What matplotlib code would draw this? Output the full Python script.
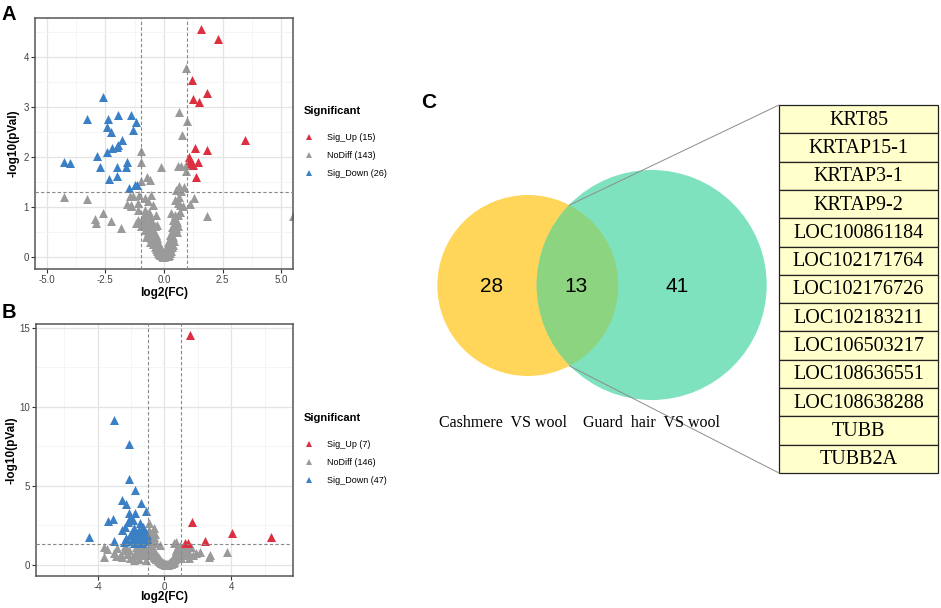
import matplotlib
matplotlib.use("Agg")
import matplotlib.pyplot as plt
from matplotlib.patches import Circle, Rectangle
from matplotlib.lines import Line2D

plt.rcParams['font.family'] = ['Liberation Sans', 'DejaVu Sans']
plt.rcParams['axes.unicode_minus'] = False

# ---------------- Panel A data ----------------
a_up_x = [1.56, 2.31, 1.19, 1.84, 1.23, 1.51, 3.44, 1.34, 1.84, 1.06, 1.12, 1.44, 1.23, 1.37, 1.17]
a_up_y = [4.56, 4.36, 3.55, 3.28, 3.16, 3.11, 2.34, 2.18, 2.14, 2.00, 1.94, 1.90, 1.84, 1.60, 1.88]

a_down_x = [-2.61, -3.29, -2.37, -1.94, -1.39, -1.19, -2.43, -2.28, -1.33, -1.80, -1.94, -2.00, -2.21,
            -2.44, -2.85, -4.25, -3.99, -2.75, -2.00, -1.59, -1.61, -2.01, -2.33, -1.50, -1.23, -1.17]
a_down_y = [3.21, 2.76, 2.76, 2.84, 2.85, 2.70, 2.60, 2.50, 2.55, 2.35, 2.25, 2.20, 2.18,
            2.10, 2.02, 1.90, 1.88, 1.80, 1.80, 1.90, 1.80, 1.63, 1.56, 1.38, 1.44, 1.45]

a_nd_x = [-4.25, -3.29, -2.95, -2.92, -2.60, -2.25, -1.83, -1.58, -1.42, -1.47, -1.40, -1.12, -1.05, -1.00,
          -1.00, -0.97, -0.73, -0.12, -0.55, -0.83, -0.69, -0.48, -1.12, -0.90, -0.55, -1.19, -0.97, 0.95,
          0.65, 1.00, 0.78, 0.72, 0.58, 0.95, 0.66, 0.52, 0.73, 0.45, 0.59, 0.80, 1.26, 1.83, 5.48, 0.31,
          0.59, 0.38, 0.85, 0.95, -1.32, -0.60, 1.10, -1.10, -0.80,
          -0.85, -0.80, -0.75, -0.70, -0.65, -0.60, -0.60, -0.55, -0.50, -0.50, -0.45, -0.45, -0.40, -0.40,
          -0.35, -0.35, -0.30, -0.30, -0.25, -0.25, -0.20, -0.20, -0.15, -0.15, -0.10, -0.10, -0.05, -0.05,
          0.00, 0.00, -0.55, -0.65, -0.70, -0.40, -0.50, -0.35, -0.30, -0.25, -0.20, -0.15, -0.75, -0.45,
          0.05, 0.05, 0.10, 0.10, 0.15, 0.15, 0.20, 0.20, 0.25, 0.25, 0.30, 0.30, 0.35, 0.35, 0.40, 0.40,
          0.45, 0.45, 0.50, 0.50, 0.55, 0.30, 0.20, 0.40, 0.55, 0.60, 0.48, 0.35, 0.25, 0.15, 0.05, -0.05,
          0.00, 0.10, 0.42,
          -0.85, -0.95, -0.65, 0.62, 0.70, -0.35, -0.28, 0.35, 0.25, 0.15, -0.10, -0.60, 0.70]
a_nd_y = [1.20, 1.17, 0.77, 0.68, 0.88, 0.72, 0.59, 1.07, 1.02, 1.22, 1.05, 1.09, 1.25, 2.12,
          1.90, 1.52, 1.60, 1.80, 1.25, 1.19, 1.12, 1.05, 0.95, 0.79, 0.75, 0.69, 0.62, 3.78,
          2.90, 2.73, 2.45, 1.82, 1.82, 1.72, 1.42, 1.35, 1.32, 1.15, 1.09, 1.02, 1.19, 0.82, 0.82, 0.89,
          0.85, 0.75, 1.40, 1.85, 1.22, 1.55, 1.07, 0.75, 0.95,
          0.70, 0.55, 0.65, 0.50, 0.60, 0.45, 0.82, 0.38, 0.52, 0.32, 0.42, 0.26, 0.36, 0.20,
          0.30, 0.17, 0.25, 0.12, 0.20, 0.09, 0.15, 0.06, 0.10, 0.04, 0.06, 0.02, 0.03, 0.01,
          0.00, 0.02, 0.58, 0.45, 0.72, 0.62, 0.68, 0.45, 0.38, 0.30, 0.25, 0.18, 0.40, 0.55,
          0.02, 0.05, 0.04, 0.10, 0.08, 0.15, 0.12, 0.22, 0.18, 0.30, 0.25, 0.38, 0.32, 0.45, 0.40, 0.55,
          0.50, 0.65, 0.58, 0.75, 0.70, 0.12, 0.05, 0.25, 0.50, 0.62, 0.85, 0.20, 0.08, 0.03, 0.10, 0.08,
          0.05, 0.18, 0.32,
          0.85, 0.72, 0.90, 1.20, 1.05, 0.85, 0.65, 0.60, 0.45, 0.30, 0.14, 0.30, 0.90]

# ---------------- Panel B data ----------------
b_up_x = [1.52, 1.62, 4.02, 6.40, 2.42, 1.22, 1.42]
b_up_y = [14.54, 2.74, 2.00, 1.79, 1.54, 1.37, 1.41]

b_down_x = [-3.00, -2.12, -2.12, -1.76, -2.54, -2.28, -1.38, -1.74, -1.10, -2.14, -3.10, -3.38, -2.04, -1.88,
            -2.20, -2.38, -1.44, -2.54, -1.28, -4.52, -3.00, -2.28, -2.04, -1.84, -1.60, -1.44, -1.24, -1.54,
            -1.74, -1.34, -1.14, -1.04, -1.94, -2.24, -1.64, -1.24, -1.44, -1.06, -2.40, -1.84, -1.54, -1.80,
            -1.24, -1.94, -1.04, -1.68, -1.34]
b_down_y = [9.16, 7.65, 5.41, 4.74, 4.11, 3.86, 3.94, 3.27, 3.43, 3.27, 2.93, 2.80, 2.95, 2.84,
            2.74, 2.42, 2.68, 2.21, 2.42, 1.75, 1.52, 1.69, 1.90, 2.00, 2.10, 2.00, 1.90, 1.79,
            1.75, 1.75, 1.69, 1.62, 1.58, 1.54, 1.54, 1.54, 1.47, 1.62, 1.47, 1.41, 2.21, 2.32,
            2.21, 2.10, 1.90, 1.41, 1.41]

b_nd_x = [-3.60, -3.45, -3.60, -3.05, -2.85, -2.65, -2.55, -2.45, -2.25, -2.05, -1.94, -1.85, -1.65, -1.55,
          -1.44, -1.30, -1.20, -1.10, -1.70, -2.35, -2.90, -1.35, -1.15, -1.05, -2.10, -1.80,
          -0.90, -0.64, -0.94, -0.74, -0.85, -0.60, -0.95, -0.70, -0.50, 0.58, -0.24, 0.66, -0.80, -0.55,
          1.56, 1.86, 2.66, 2.70, 3.76, 1.46, 0.66, 1.06, 1.30, 1.10, 0.90, 0.75, 1.20, 1.45, 1.35, 0.85,
          1.00, 1.70, 2.10,
          -1.00, -0.95, -0.90, -0.90, -0.85, -0.85, -0.80, -0.80, -0.75, -0.75, -0.70, -0.70, -0.65, -0.65,
          -0.60, -0.60, -0.55, -0.55, -0.50, -0.50, -0.45, -0.45, -0.40, -0.40, -0.35, -0.35, -0.30, -0.30,
          -0.25, -0.25, -0.20, -0.20, -0.15, -0.15, -0.10, -0.10, -0.05, -0.05, 0.00, 0.00, 0.05, 0.05,
          0.10, 0.10, 0.15, 0.15, 0.20, -0.95, -1.00, -0.60,
          0.25, 0.25, 0.30, 0.30, 0.35, 0.35, 0.40, 0.40, 0.45, 0.45, 0.50, 0.50, 0.55, 0.55, 0.60, 0.60,
          0.65, 0.65, 0.70, 0.70, 0.75, 0.80, 0.80, 0.85, 0.90, 0.90, 0.95, 0.95, 1.00, 0.75, 0.55, 0.40,
          0.65, 0.85, 0.20, 0.50, 0.70]
b_nd_y = [1.15, 1.00, 0.50, 0.75, 1.05, 0.55, 0.52, 0.95, 0.72, 0.45, 0.42, 0.60, 0.90, 0.35,
          0.74, 1.00, 0.60, 0.30, 1.15, 1.20, 0.55, 1.25, 1.10, 0.85, 0.95, 0.30,
          2.63, 2.32, 2.21, 2.00, 1.80, 1.75, 1.55, 1.45, 1.40, 1.41, 1.26, 1.47, 1.60, 1.95,
          1.16, 0.74, 0.52, 0.62, 0.84, 0.42, 0.95, 0.95, 0.80, 0.60, 1.20, 1.05, 1.10, 0.70, 1.00, 0.80,
          0.45, 0.60, 0.80,
          1.00, 0.90, 1.10, 0.80, 0.95, 0.70, 0.85, 0.60, 0.75, 1.05, 0.65, 0.90, 0.55, 0.80,
          0.50, 0.70, 0.45, 0.65, 0.40, 0.60, 0.35, 0.55, 0.30, 0.48, 0.25, 0.42, 0.22, 0.35,
          0.18, 0.30, 0.14, 0.25, 0.10, 0.20, 0.08, 0.15, 0.05, 0.12, 0.03, 0.08, 0.02, 0.06,
          0.01, 0.05, 0.00, 0.04, 0.02, 1.15, 0.65, 0.95,
          0.05, 0.10, 0.08, 0.15, 0.12, 0.20, 0.16, 0.26, 0.22, 0.32, 0.28, 0.40, 0.34, 0.48, 0.42, 0.55,
          0.50, 0.62, 0.55, 0.70, 0.62, 0.75, 0.60, 0.68, 0.72, 0.55, 0.80, 0.62, 0.70, 0.48, 0.20, 0.08,
          0.38, 0.90, 0.08, 0.15, 0.85]

# thresholds
fc_cut = [-1, 1]
p_cut = 1.301

# tick labels
a_xticks = [-5.0, -2.5, 0.0, 2.5, 5.0]
a_xticklabels = ["-5.0", "-2.5", "0.0", "2.5", "5.0"]
a_yticks = [0, 1, 2, 3, 4]
b_xticks = [-4, 0, 4]
b_yticks = [0, 5, 10, 15]

# ---------------- Panel C data ----------------
set_names = ["Cashmere  VS wool", "Guard  hair  VS wool"]
venn_counts = [28, 13, 41]   # only set 1, shared, only set 2
shared_genes = ["KRT85", "KRTAP15-1", "KRTAP3-1", "KRTAP9-2", "LOC100861184", "LOC102171764",
                "LOC102176726", "LOC102183211", "LOC106503217", "LOC108636551", "LOC108638288",
                "TUBB", "TUBB2A"]

RED = '#DC2F40'
GREY = '#9A9A9A'
BLUE = '#3B80C4'

W, H = 941, 608
fig = plt.figure(figsize=(W / 100, H / 100), dpi=100)


def box(l, t, r, b):
    return [l / W, 1 - b / H, (r - l) / W, (b - t) / H]


def volcano(ax, upx, upy, ndx, ndy, dnx, dny, xlim, ylim, xmaj, xmin, ymaj, ymin, xlabs, leg_xy,
            xlab_y, ylab_x):
    ax.set_xlim(xlim)
    ax.set_ylim(ylim)
    ax.set_xticks(xmaj)
    if xlabs is not None:
        ax.set_xticklabels(xlabs)
    ax.set_xticks(xmin, minor=True)
    ax.set_yticks(ymaj)
    ax.set_yticks(ymin, minor=True)
    ax.grid(which='major', color='#E4E4E4', lw=0.9)
    ax.grid(which='minor', color='#F1F1F1', lw=0.5)
    ax.set_axisbelow(True)
    for s in ax.spines.values():
        s.set_color('#555555')
        s.set_linewidth(1.1)
    ax.tick_params(which='major', length=3, width=0.8, color='#333333', labelsize=7,
                   labelcolor='#444444', pad=1.5)
    ax.tick_params(which='minor', length=0)
    ax.scatter(ndx, ndy, marker='^', s=42, c=GREY, linewidths=0, zorder=2)
    ax.scatter(upx, upy, marker='^', s=42, c=RED, linewidths=0, zorder=3)
    ax.scatter(dnx, dny, marker='^', s=42, c=BLUE, linewidths=0, zorder=3)
    for v in fc_cut:
        ax.axvline(v, color='#888888', lw=0.8, ls=(0, (3, 2)), zorder=4)
    ax.axhline(p_cut, color='#888888', lw=0.8, ls=(0, (3, 2)), zorder=4)
    ax.set_xlabel('log2(FC)', fontsize=8.5, fontweight='bold', va='center')
    ax.xaxis.set_label_coords(0.5, xlab_y)
    ax.set_ylabel('-log10(pVal)', fontsize=8.5, fontweight='bold', va='center')
    ax.yaxis.set_label_coords(ylab_x, 0.5)
    handles = [Line2D([], [], ls='', marker='^', ms=4, color=RED, mew=0),
               Line2D([], [], ls='', marker='^', ms=4, color=GREY, mew=0),
               Line2D([], [], ls='', marker='^', ms=4, color=BLUE, mew=0)]
    labels = ['Sig_Up (%d)' % len(upx), 'NoDiff (%d)' % len(ndx), 'Sig_Down (%d)' % len(dnx)]
    leg = ax.legend(handles, labels, title='Significant', loc='upper left',
                    bbox_to_anchor=(leg_xy[0] / W, 1 - leg_xy[1] / H), bbox_transform=fig.transFigure,
                    frameon=False, fontsize=6.5, title_fontproperties={'weight': 'bold', 'size': 8},
                    alignment='left', borderpad=0, handlelength=1.2, handletextpad=1.3,
                    labelspacing=1.0, borderaxespad=0)
    leg._legend_box.sep = 12
    return ax


axA = fig.add_axes(box(35, 18, 293, 269))
volcano(axA, a_up_x, a_up_y, a_nd_x, a_nd_y, a_down_x, a_down_y,
        (-5.5, 5.5), (-0.23, 4.78), a_xticks, [-3.75, -1.25, 1.25, 3.75],
        a_yticks, [0.5, 1.5, 2.5, 3.5, 4.5], a_xticklabels, (304, 106),
        -(293 - 269) / 251, -(14 - 35) / 258 * -1)

axB = fig.add_axes(box(36, 324, 293, 576))
volcano(axB, b_up_x, b_up_y, b_nd_x, b_nd_y, b_down_x, b_down_y,
        (-7.7, 7.7), (-0.7, 15.23), b_xticks, [-6, -2, 2, 6],
        b_yticks, [2.5, 7.5, 12.5], None, (304, 413),
        -(597 - 576) / 252, -(36 - 12) / 257)

# panel letters
fig.text(2 / W, 1 - 5 / H, 'A', fontsize=14.5, fontweight='bold', va='top', ha='left')
fig.text(2 / W, 1 - 303 / H, 'B', fontsize=14.5, fontweight='bold', va='top', ha='left')
fig.text(421 / W, 1 - 93 / H, 'C', fontsize=15, fontweight='bold', va='top', ha='left')

# ---------------- Panel C: Venn + table ----------------
axC = fig.add_axes([0, 0, 1, 1])
axC.set_xlim(0, W)
axC.set_ylim(H, 0)
axC.axis('off')
axC.set_zorder(-1)

c1 = (527.8, 285.5, 90.5)
c2 = (651.7, 285.0, 115.0)
YEL = '#FFD659'
GRN = '#7FE2BF'
OVL = '#8DD480'
axC.add_patch(Circle(c1[:2], c1[2], fc=YEL, ec='none'))
circ2 = Circle(c2[:2], c2[2], fc=GRN, ec='none')
axC.add_patch(circ2)
lens = Circle(c1[:2], c1[2], fc=OVL, ec='none')
axC.add_patch(lens)
lens.set_clip_path(circ2)

axC.text(491.7, 286, str(venn_counts[0]), fontsize=15, ha='center', va='center')
axC.text(576, 286, str(venn_counts[1]), fontsize=15, ha='center', va='center')
axC.text(676.7, 286, str(venn_counts[2]), fontsize=15, ha='center', va='center')
axC.text(503, 423, set_names[0], fontsize=11.5, ha='center', va='center', family='Liberation Serif')
axC.text(652, 423, set_names[1], fontsize=11.5, ha='center', va='center', family='Liberation Serif')

# table
tx0, tx1, ty0, ty1 = 779, 938, 105, 473
rh = (ty1 - ty0) / len(shared_genes)
for i, g in enumerate(shared_genes):
    y = ty0 + i * rh
    axC.add_patch(Rectangle((tx0, y), tx1 - tx0, rh, fc='#FFFFCC', ec='#222222', lw=0.9))
    axC.text((tx0 + tx1) / 2, y + rh / 2 + 1, g, fontsize=14.5, ha='center', va='center',
             family='Liberation Serif')

# connector lines from the circle intersections to the table corners
axC.plot([569.4, tx0], [205.1, ty0], color='#8C8C8C', lw=0.7)
axC.plot([569.4, tx0], [365.9, ty1], color='#8C8C8C', lw=0.7)

fig.savefig('out.png', dpi=100)
